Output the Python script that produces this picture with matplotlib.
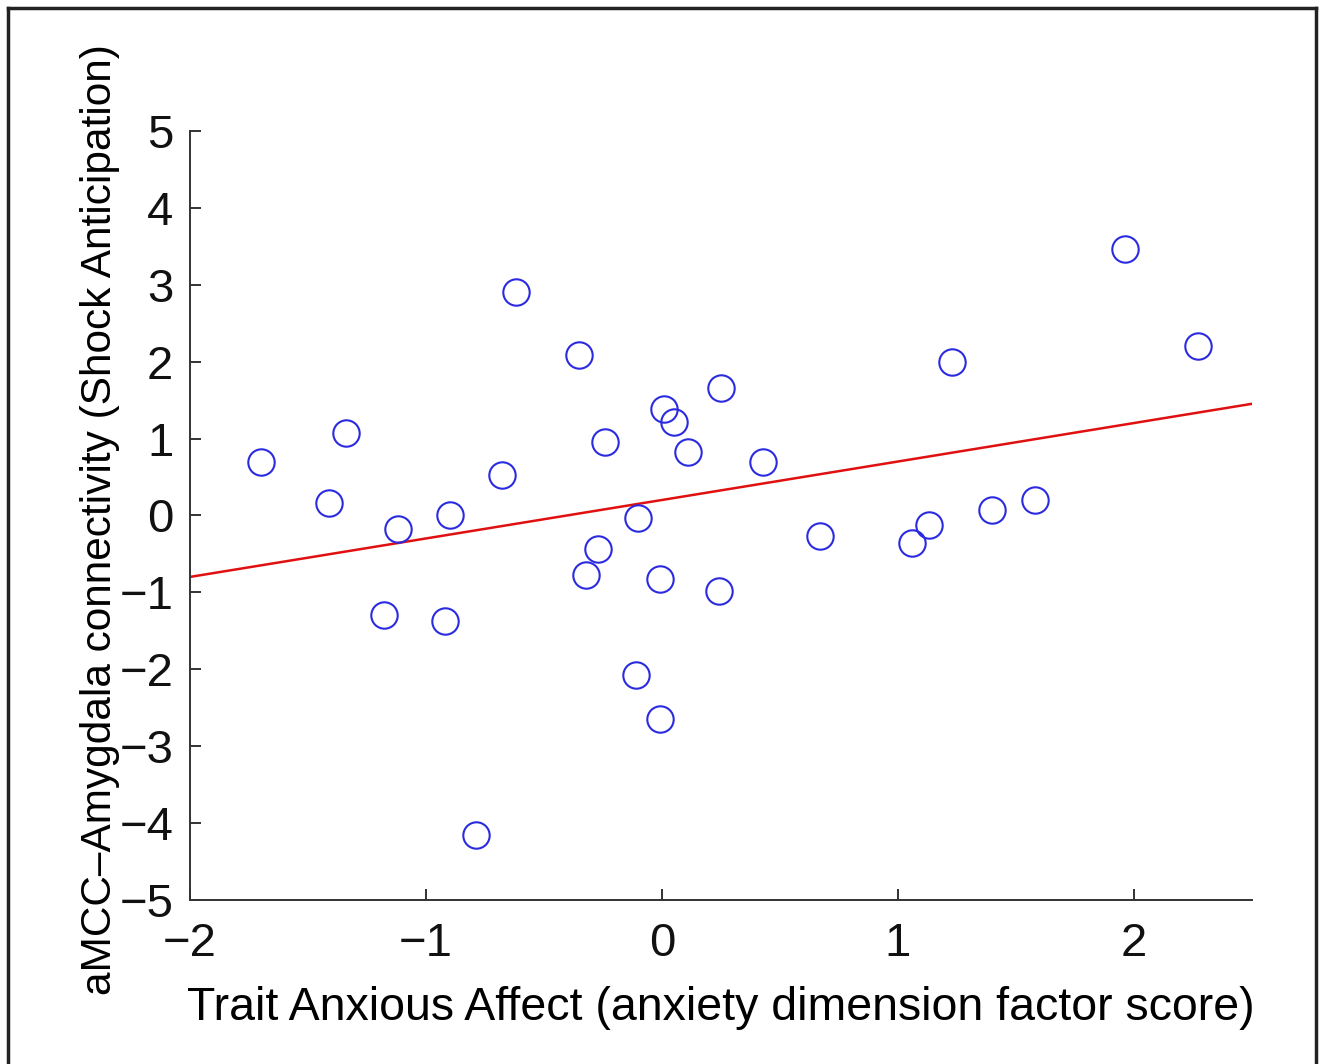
import numpy as np
import matplotlib
matplotlib.use("Agg")
import matplotlib.pyplot as plt
from matplotlib.lines import Line2D

trait_anxious = [-1.70, -1.41, -1.34, -1.18, -1.12, -0.92, -0.90, -0.79, -0.68, -0.62,
                 -0.35, -0.32, -0.27, -0.24, -0.11, -0.10, -0.01, -0.01, 0.01, 0.05,
                 0.11, 0.24, 0.25, 0.43, 0.67, 1.06, 1.13, 1.23, 1.40, 1.58, 1.96, 2.27]
connectivity = [0.70, 0.16, 1.07, -1.30, -0.18, -1.37, 0.01, -4.16, 0.53, 2.91,
                2.09, -0.78, -0.43, 0.96, -2.08, -0.03, -0.82, -2.64, 1.38, 1.22,
                0.82, -0.98, 1.66, 0.69, -0.27, -0.36, -0.12, 1.99, 0.07, 0.20, 3.47, 2.21]
fit_x_range = [-2.0, 2.5]
x_ticks = [-2, -1, 0, 1, 2]
y_ticks = [-5, -4, -3, -2, -1, 0, 1, 2, 3, 4, 5]

plt.rcParams['font.family'] = ['Liberation Sans', 'DejaVu Sans']
plt.rcParams['axes.unicode_minus'] = True

fig = plt.figure(figsize=(13.23, 10.64), dpi=100)
W, H = 1323, 1064
ax = fig.add_axes([190 / W, 1 - 900 / H, (1252 - 190) / W, (900 - 131) / H])

ax.plot(trait_anxious, connectivity, linestyle='none', marker='o', markersize=19,
        markerfacecolor='none', markeredgecolor='#2a2ae0', markeredgewidth=1.5, zorder=3)

slope, intercept = np.polyfit(trait_anxious, connectivity, 1)
fx = np.array(fit_x_range)
ax.plot(fx, slope * fx + intercept, color='#e01010', linewidth=1.8, zorder=2)

ax.set_xlim(-2, 2.5)
ax.set_ylim(-5, 5)
ax.set_xticks(x_ticks)
ax.set_yticks(y_ticks)
ax.set_xticklabels([f"{t}".replace('-', '\u2212') for t in x_ticks])
ax.set_yticklabels([f"{t}".replace('-', '\u2212') for t in y_ticks])
ax.tick_params(direction='in', length=8, width=1.2, labelsize=34, colors='#111111')
ax.tick_params(axis='x', pad=16)
ax.tick_params(axis='y', pad=12)
for s in ['top', 'right']:
    ax.spines[s].set_visible(False)
for s in ['left', 'bottom']:
    ax.spines[s].set_linewidth(1.4)
    ax.spines[s].set_color('#333333')

ax.set_xlabel('Trait Anxious Affect (anxiety dimension factor score)', fontsize=33.5, labelpad=14)
ax.set_ylabel('aMCC\u2013Amygdala connectivity (Shock Anticipation)', fontsize=30.5)
ax.yaxis.set_label_coords(-0.066, 0.495)

# figure frame
fx0, fx1 = 7.5 / W, 1316 / W
fy1 = 1 - 8 / H
fy0 = 1 - 1070 / H
for xs, ys in [([fx0, fx0], [fy0, fy1]), ([fx0, fx1], [fy1, fy1]), ([fx1, fx1], [fy1, fy0])]:
    fig.add_artist(Line2D(xs, ys, transform=fig.transFigure, color='#222222', linewidth=2.5))

fig.savefig('out.png', dpi=100, facecolor='white')
